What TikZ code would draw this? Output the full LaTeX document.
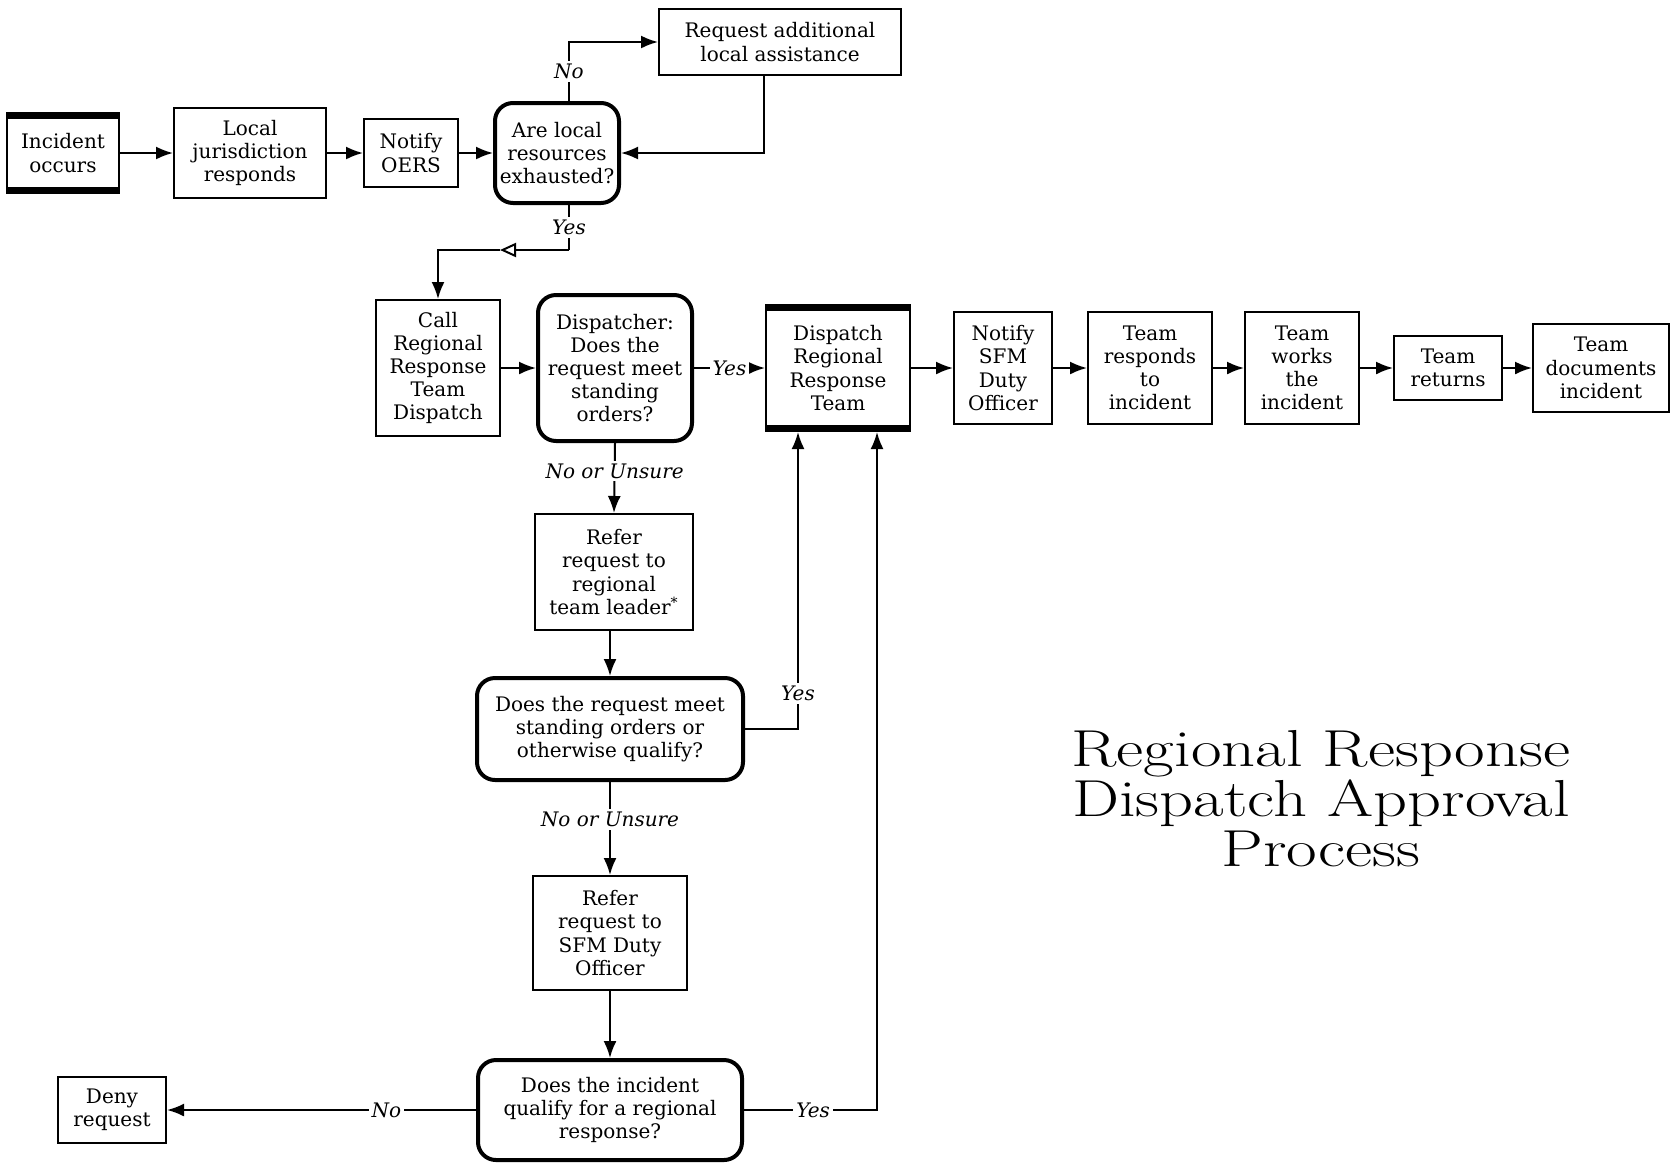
\documentclass[tikz,border=0pt]{standalone}
\usepackage{fontspec}
\usepackage{graphicx}
\newfontfamily\boxfont{DejaVu Serif}
\usetikzlibrary{arrows.meta}

\tikzset{
  box/.style={draw, line width=1pt, align=center, inner sep=2pt,
    font={\boxfont\fontsize{10}{11.6}\selectfont}},
  decision/.style={box, line width=2pt, rounded corners=9pt},
  lbl/.style={fill=white, inner sep=1.5pt,
    font={\boxfont\itshape\fontsize{10}{11.6}\selectfont}},
  arr/.style={-{Latex[length=8.5pt,width=6.5pt]}, line width=1pt},
  link/.style={line width=1pt}
}

\begin{document}
\begin{tikzpicture}[x=0.5pt, y=-0.5pt]
\useasboundingbox (0,0) rectangle (1670,1163);

    % Top row
    \node[box, minimum width=56pt, minimum height=40pt] (inc) at (63,153) {Incident\\occurs};
    \node[box, minimum width=76pt, minimum height=45pt] (local) at (250,153) {Local\\jurisdiction\\responds};
    \node[box, minimum width=47pt, minimum height=34pt] (oers) at (411,153) {Notify\\OERS};
    \node[decision, minimum width=62pt, minimum height=50pt] (exh) at (557,153) {Are local\\resources\\exhausted?};
    \node[box, minimum width=121pt, minimum height=33pt] (addl) at (780,42) {Request additional\\local assistance};

    % Second row
    \node[box, minimum width=62pt, minimum height=68pt] (call) at (438,368) {Call\\Regional\\Response\\Team\\Dispatch};
    \node[decision, minimum width=77pt, minimum height=73pt] (disp) at (615,368) {Dispatcher:\\Does the\\request meet\\standing\\orders?};
    \node[box, minimum width=72pt, minimum height=63pt] (drrt) at (838,368) {Dispatch\\Regional\\Response\\Team};
    \node[box, minimum width=49pt, minimum height=56pt] (sfm) at (1003,368) {Notify\\SFM\\Duty\\Officer};
    \node[box, minimum width=62pt, minimum height=56pt] (resp) at (1150,368) {Team\\responds\\to\\incident};
    \node[box, minimum width=57pt, minimum height=56pt] (works) at (1302,368) {Team\\works\\the\\incident};
    \node[box, minimum width=54pt, minimum height=32pt] (ret) at (1448,368) {Team\\returns};
    \node[box, minimum width=68pt, minimum height=44pt] (docs) at (1601,368) {Team\\documents\\incident};

    % Approval column
    \node[box, minimum width=79pt, minimum height=58pt] (leader) at (614,572) {Refer\\request to\\regional\\team leader\textsuperscript{*}};
    \node[decision, minimum width=133pt, minimum height=51pt] (qual) at (610,729) {Does the request meet\\standing orders or\\otherwise qualify?};
    \node[box, minimum width=77pt, minimum height=57pt] (sfmref) at (610,933) {Refer\\request to\\SFM Duty\\Officer};
    \node[decision, minimum width=132pt, minimum height=50pt] (regq) at (610,1110) {Does the incident\\qualify for a regional\\response?};
    \node[box, minimum width=54pt, minimum height=33pt] (deny) at (112,1110) {Deny\\request};

    % Heavy bars on start and dispatch boxes
    \foreach \n in {inc,drrt} {
      \draw[line width=3.5pt] ([yshift=-1.75pt]\n.north west) -- ([yshift=-1.75pt]\n.north east);
      \draw[line width=3.5pt] ([yshift=1.75pt]\n.south west) -- ([yshift=1.75pt]\n.south east);
    }

    % Top row arrows
    \draw[arr] (inc) -- (local);
    \draw[arr] (local) -- (oers);
    \draw[arr] (oers) -- (exh);
    \draw[arr] ([xshift=6pt]exh.north) |- node[lbl, pos=0.25] {No} (addl.west);
    \draw[arr] ([xshift=-8pt]addl.south) |- (exh.east);

    % Yes branch down to the call box
    \coordinate (ybend) at (569,250);
    \coordinate (tri) at (500,250);
    \draw[link] ([xshift=6pt]exh.south) -- node[lbl] {Yes} (ybend);
    \draw[link, -{Triangle[open, length=8pt, width=7pt]}] (ybend) -- (tri);
    \draw[arr] (tri) -| (call.north);

    % Second row arrows
    \draw[arr] (call) -- (disp);
    \draw[arr] (disp) -- node[lbl] {Yes} (drrt);
    \draw[arr] (drrt) -- (sfm);
    \draw[arr] (sfm) -- (resp);
    \draw[arr] (resp) -- (works);
    \draw[arr] (works) -- (ret);
    \draw[arr] (ret) -- (docs);

    % Approval column arrows
    \draw[arr] (disp.south) -- node[lbl, pos=0.4] {No or Unsure} (leader.north);
    \draw[arr] (leader.south -| qual.north) -- (qual.north);
    \draw[arr] (qual.east) -| node[lbl, pos=0.56] {Yes} ([xshift=-20pt]drrt.south);
    \draw[arr] (qual.south) -- node[lbl, pos=0.4] {No or Unsure} (sfmref.north);
    \draw[arr] (sfmref) -- (regq);
    \draw[arr] (regq.west) -- node[lbl, pos=0.29] {No} (deny.east);
    \draw[arr] (regq.east) -| node[lbl, pos=0.26] {Yes} ([xshift=19.5pt]drrt.south);

    % Title
    \node[align=center, font=\fontsize{26}{25}\selectfont] (title) at (1321,799)
      {\scalebox{1.28}[1]{Regional Response}\\\scalebox{1.28}[1]{Dispatch Approval}\\\scalebox{1.28}[1]{Process}};

\end{tikzpicture}
\end{document}
